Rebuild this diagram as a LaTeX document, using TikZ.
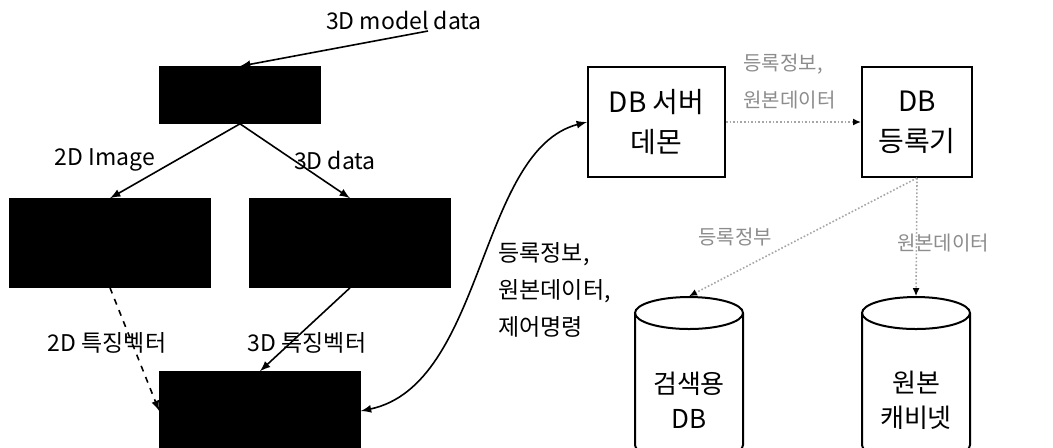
\documentclass[tikz,border=0pt]{standalone}
\usepackage{fontspec}
\setmainfont{Noto Sans CJK KR}
\usetikzlibrary{arrows.meta}

\begin{document}
\begin{tikzpicture}[x=0.5pt,y=-0.5pt, line width=0.8pt,
    dark/.style={draw, fill=black, inner sep=0pt},
    wbox/.style={draw, line width=1pt, align=center, inner sep=0pt, font=\fontsize{14}{20}\selectfont},
    cylbody/.style={minimum width=54pt, minimum height=84pt, inner sep=0pt},
    lbl/.style={font=\fontsize{11.5}{18.5}\selectfont},
    glbl/.style={font=\fontsize{10}{18.5}\selectfont, text=black!45},
    faint/.style={densely dotted, black!35, -{Latex[black,length=4pt,width=3.5pt]}}]
    \useasboundingbox (0,0) rectangle (1053,447);
    \clip (0,0) rectangle (1053,447);

    % blocos escuros (lado esquerdo)
    \node[dark, minimum width=80pt, minimum height=28pt] (gen) at (240,95) {};
    \node[dark, minimum width=100pt, minimum height=44pt] (f2d) at (110,243) {};
    \node[dark, minimum width=100pt, minimum height=44pt] (f3d) at (350,243) {};
    \node[dark, minimum width=100pt, minimum height=39pt] (mix) at (260,411) {};

    % caixas (lado direito)
    \node[wbox, minimum width=68.5pt, minimum height=55pt] (srv) at (656.5,122) {DB 서버\\데몬};
    \node[wbox, minimum width=55pt, minimum height=55pt] (reg) at (917,122) {DB\\등록기};

    % cilindros
    \foreach \cx/\nm in {689/sdb, 916/cab}{
        \node[cylbody] (\nm) at (\cx,381) {};
        \draw[line width=1pt] (\cx,313) ellipse [x radius=54, y radius=16];
        \draw[line width=1pt] (\cx-54,313) -- (\cx-54,445)
            arc[start angle=180, end angle=0, x radius=54, y radius=16] -- (\cx+54,313);
    }
    \node[font=\fontsize{13}{17.5}\selectfont, align=center] (sdbtxt) at (689,400) {검색용\\DB};
    \node[font=\fontsize{13}{17.5}\selectfont, align=center] (cabtxt) at (916,400) {원본\\캐비넷};

    % rotulos
    \node[lbl] (mdl) at (404,20) {3D model data};
    \node[lbl] (img) at (105,160) {2D Image};
    \node[lbl] (dat) at (335,160) {3D data};
    \node[lbl] (v2d) at (107,343) {2D 특징벡터};
    \node[lbl] (v3d) at (307,343) {3D 특징벡터};
    \node[lbl, align=left, anchor=west] (cmd) at (491,290) {등록정보,\\원본데이터,\\제어명령};
    \node[glbl, align=left, anchor=west] (reginfo) at (736,82) {등록정보,\\원본데이터};
    \node[glbl] (sinfo) at (735,237) {등록정부};
    \node[glbl] (orig) at (943,243) {원본데이터};

    \coordinate (mdlsrc) at (428,31);

    % setas
    \draw[-latex] (mdlsrc) -- (gen.north);
    \draw[-latex] (gen.south) -- (f2d.north);
    \draw[-latex] (gen.south) -- (f3d.north);
    \draw[-latex, dashed] (f2d.south) -- (mix.west);
    \draw[-latex] (f3d.south) -- (mix.north);
    \draw[latex-latex] (mix.east) .. controls (485,385) and (478,150) .. (srv.west);
    \draw[faint] (srv.east) -- (reg.west);
    \draw[faint] (reg.south) -- (sdb.north);
    \draw[faint] (reg.south) -- (cab.north);
\end{tikzpicture}
\end{document}
